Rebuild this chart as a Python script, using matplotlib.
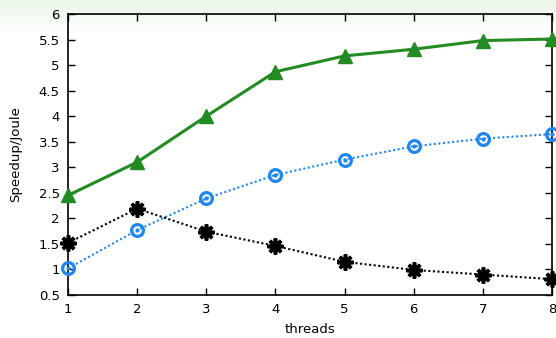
import numpy as np
import matplotlib
matplotlib.use('Agg')
import matplotlib.pyplot as plt

# Dados
threads = [1, 2, 3, 4, 5, 6, 7, 8]
verde = [2.45, 3.10, 4.00, 4.87, 5.18, 5.31, 5.48, 5.51]
azul = [1.02, 1.77, 2.39, 2.85, 3.15, 3.41, 3.56, 3.65]
preto = [1.52, 2.19, 1.74, 1.46, 1.15, 0.99, 0.90, 0.81]

y_ticks = [0.5, 1, 1.5, 2, 2.5, 3, 3.5, 4, 4.5, 5, 5.5, 6]
y_labels = ['0.5', '1', '1.5', '2', '2.5', '3', '3.5', '4', '4.5', '5', '5.5', '6']

plt.rcParams['font.family'] = 'DejaVu Sans'
fig = plt.figure(figsize=(5.56, 3.38), dpi=100)

# Fundo com degrade verde claro no topo
fundo = fig.add_axes([0, 0, 1, 1], zorder=-10)
fundo.axis('off')
alturas = np.linspace(0, 1, 338)
alpha = np.clip(1 - alturas / 0.1, 0, 1)[:, None] * np.ones((1, 556))
cor = np.zeros((338, 556, 4))
cor[..., 0] = 0.92
cor[..., 1] = 0.965
cor[..., 2] = 0.91
cor[..., 3] = alpha
fundo.imshow(cor, aspect='auto', extent=[0, 1, 0, 1])
fundo.set_xlim(0, 1)
fundo.set_ylim(0, 1)

ax = fig.add_axes([0.1223, 0.1272, 0.8705, 0.8314])
ax.patch.set_alpha(0)

ax.plot(threads, verde, color='#228B22', lw=2.2, marker='^', ms=9.5,
        mfc='#228B22', mec='#228B22', clip_on=False, zorder=5)
ax.plot(threads, azul, color='#1E88F0', lw=1.5, ls=(0, (1, 1.2)), marker='o', ms=8.5,
        mfc='none', mec='#1E88F0', mew=2.3, clip_on=False, zorder=4)
ax.plot(threads, azul, ls='none', marker='o', ms=2, color='#1E88F0', clip_on=False, zorder=4)
ax.plot(threads, preto, color='black', lw=1.5, ls=(0, (1, 1.2)), marker=(8, 2, 0), ms=11.5,
        mec='black', mew=2.6, clip_on=False, zorder=4)

ax.set_xlim(1, 8)
ax.set_ylim(0.5, 6)
ax.set_xticks(threads)
ax.set_yticks(y_ticks)
ax.set_yticklabels(y_labels)
ax.tick_params(direction='in', length=5, width=1, top=True, right=True,
               labelsize=9.5, pad=6, colors='black')
for lado in ax.spines.values():
    lado.set_linewidth(1.2)

ax.set_xlabel('threads', fontsize=9.5, labelpad=5)
ax.set_ylabel('Speedup/Joule', fontsize=9.5, labelpad=12)

fig.savefig('out.png', dpi=100)
